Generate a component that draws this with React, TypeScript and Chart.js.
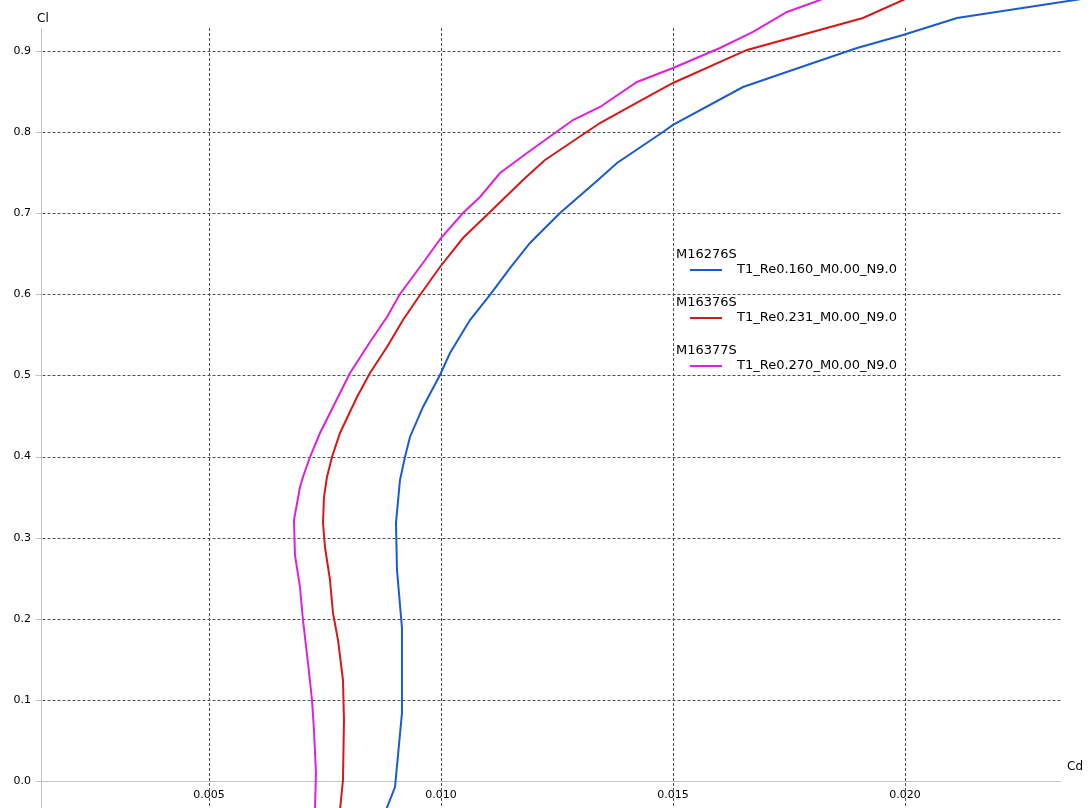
import React, { useEffect, useRef } from "react";
import { Chart, registerables } from "chart.js";

Chart.register(...registerables);

// ---- Data ----
const FOIL_NAMES = ["M16276S", "M16376S", "M16377S"];
const POLAR_NAMES = ["T1_Re0.160_M0.00_N9.0", "T1_Re0.231_M0.00_N9.0", "T1_Re0.270_M0.00_N9.0"];
const SERIES_COLORS = ["#1a5cd0", "#d81818", "#dc22dc"];

const BLUE_CD = [0.008815, 0.009009, 0.009159, 0.009159, 0.009052, 0.00903, 0.009116, 0.009224, 0.009332, 0.009612, 0.009978, 0.010194, 0.010625, 0.011056, 0.011487, 0.011918, 0.012565, 0.013384, 0.013793, 0.014784, 0.015, 0.016509, 0.018017, 0.018966, 0.019957, 0.021121, 0.02366, 0.0245];
const BLUE_CL = [-0.0358, -0.0074, 0.0838, 0.1887, 0.2602, 0.3181, 0.3711, 0.3995, 0.4242, 0.4612, 0.5006, 0.5277, 0.5684, 0.5993, 0.6325, 0.6634, 0.7004, 0.7411, 0.762, 0.8002, 0.8089, 0.8557, 0.8853, 0.9038, 0.9199, 0.9408, 0.963, 0.9704];

const RED_CD = [0.007823, 0.007888, 0.007909, 0.007888, 0.00778, 0.007672, 0.007608, 0.0075, 0.007457, 0.007478, 0.007543, 0.007651, 0.007823, 0.00819, 0.00847, 0.008836, 0.009181, 0.009547, 0.009978, 0.010474, 0.011056, 0.011767, 0.012241, 0.013427, 0.014009, 0.015, 0.016595, 0.019095, 0.019957, 0.020431];
const RED_CL = [-0.0358, 0.0012, 0.0752, 0.1245, 0.1739, 0.2072, 0.2478, 0.2885, 0.3181, 0.3502, 0.3748, 0.3995, 0.4291, 0.4735, 0.5031, 0.5351, 0.5684, 0.5993, 0.6338, 0.6695, 0.7016, 0.7411, 0.7657, 0.8113, 0.8298, 0.8607, 0.9014, 0.9408, 0.963, 0.9753];

const MAG_CD = [0.007284, 0.007306, 0.007263, 0.00722, 0.007134, 0.007026, 0.006961, 0.006853, 0.006832, 0.006961, 0.007026, 0.007177, 0.007392, 0.007608, 0.008039, 0.00847, 0.008836, 0.009116, 0.009547, 0.01, 0.010474, 0.010841, 0.011272, 0.011853, 0.012845, 0.013427, 0.014224, 0.015, 0.016013, 0.016724, 0.017457, 0.018168, 0.018599];
const MAG_CL = [-0.0358, 0.0099, 0.0629, 0.0999, 0.1455, 0.1985, 0.2392, 0.2787, 0.3218, 0.3625, 0.3748, 0.3995, 0.4291, 0.4538, 0.5031, 0.5413, 0.5721, 0.6005, 0.6338, 0.6695, 0.7004, 0.7201, 0.7497, 0.7744, 0.815, 0.8311, 0.8619, 0.8792, 0.9038, 0.9236, 0.9482, 0.963, 0.9729];

const X_TICKS = [0.005, 0.01, 0.015, 0.02];
const X_TICK_LABELS = ["0.005", "0.010", "0.015", "0.020"];
const Y_TICKS = [0.0, 0.1, 0.2, 0.3, 0.4, 0.5, 0.6, 0.7, 0.8, 0.9];
const Y_TICK_LABELS = ["0.0", "0.1", "0.2", "0.3", "0.4", "0.5", "0.6", "0.7", "0.8", "0.9"];
const X_TITLE = "Cd";
const Y_TITLE = "Cl";

const X_MIN = 0.000496;
const X_MAX = 0.024009;
const Y_MIN = -0.0333;
const Y_MAX = 0.963;

// ---- Layout / style constants (pixels) ----
const W = 1091;
const H = 808;
const AXIS_LEFT = 41.5;
const GRID_RIGHT = 1061;
const GRID_TOP = 28;
const FONT = "DejaVu Sans, Verdana, sans-serif";

const pairs = (xs: number[], ys: number[]) => xs.map((x, i) => ({ x, y: ys[i] }));

const framePlugin = {
  id: "xflrFrame",
  beforeDatasetsDraw(chart: any) {
    const ctx = chart.ctx as CanvasRenderingContext2D;
    const xs = chart.scales.x;
    const ys = chart.scales.y;
    ctx.save();
    ctx.lineWidth = 1;
    ctx.strokeStyle = "#c4c4c4";
    Y_TICKS.forEach((v) => {
      const py = Math.round(ys.getPixelForValue(v)) + 0.5;
      ctx.beginPath();
      ctx.moveTo(AXIS_LEFT - 6, py);
      ctx.lineTo(AXIS_LEFT, py);
      ctx.stroke();
    });
    ctx.strokeStyle = "#505050";
    ctx.setLineDash([3, 2]);
    Y_TICKS.forEach((v) => {
      if (v === 0) return;
      const py = Math.round(ys.getPixelForValue(v)) + 0.5;
      ctx.beginPath();
      ctx.moveTo(AXIS_LEFT + 1, py);
      ctx.lineTo(GRID_RIGHT, py);
      ctx.stroke();
    });
    X_TICKS.forEach((v) => {
      const px = Math.round(xs.getPixelForValue(v)) + 0.5;
      ctx.beginPath();
      ctx.moveTo(px, GRID_TOP);
      ctx.lineTo(px, H);
      ctx.stroke();
    });
    ctx.setLineDash([]);
    ctx.strokeStyle = "#c4c4c4";
    const y0 = Math.round(ys.getPixelForValue(0)) + 0.5;
    ctx.beginPath();
    ctx.moveTo(AXIS_LEFT, GRID_TOP);
    ctx.lineTo(AXIS_LEFT, H);
    ctx.stroke();
    ctx.beginPath();
    ctx.moveTo(AXIS_LEFT, y0);
    ctx.lineTo(GRID_RIGHT, y0);
    ctx.stroke();
    ctx.restore();
  },
  afterDatasetsDraw(chart: any) {
    const ctx = chart.ctx as CanvasRenderingContext2D;
    const xs = chart.scales.x;
    const ys = chart.scales.y;
    ctx.save();
    ctx.fillStyle = "#000";
    ctx.font = `11px ${FONT}`;
    ctx.textBaseline = "middle";
    ctx.textAlign = "right";
    Y_TICKS.forEach((v, i) => {
      ctx.fillText(Y_TICK_LABELS[i], 31, ys.getPixelForValue(v));
    });
    ctx.textAlign = "center";
    X_TICKS.forEach((v, i) => {
      ctx.fillText(X_TICK_LABELS[i], xs.getPixelForValue(v), 795);
    });
    ctx.font = `12px ${FONT}`;
    ctx.textAlign = "left";
    ctx.fillText(Y_TITLE, 37, 19);
    ctx.fillText(X_TITLE, 1067, 767);
    ctx.font = `13px ${FONT}`;
    FOIL_NAMES.forEach((name, i) => {
      const top = 255 + i * 48;
      ctx.fillStyle = "#000";
      ctx.fillText(name, 676, top);
      ctx.strokeStyle = SERIES_COLORS[i];
      ctx.lineWidth = 2;
      ctx.beginPath();
      ctx.moveTo(690, top + 15);
      ctx.lineTo(722, top + 15);
      ctx.stroke();
      ctx.fillText(POLAR_NAMES[i], 737, top + 15);
    });
    ctx.restore();
  },
};

export default function App() {
  const ref = useRef<HTMLCanvasElement | null>(null);
  useEffect(() => {
    document.body.style.margin = "0";
    const canvas = ref.current;
    if (!canvas) return;
    const series = [pairs(BLUE_CD, BLUE_CL), pairs(RED_CD, RED_CL), pairs(MAG_CD, MAG_CL)];
    const chart = new Chart(canvas, {
      type: "scatter",
      data: {
        datasets: series.map((d, i) => ({
          label: `${FOIL_NAMES[i]} ${POLAR_NAMES[i]}`,
          data: d,
          showLine: true,
          borderColor: SERIES_COLORS[i],
          backgroundColor: SERIES_COLORS[i],
          borderWidth: 2,
          pointRadius: 0,
          tension: 0,
        })),
      },
      options: {
        responsive: false,
        animation: false,
        layout: { padding: 0 },
        plugins: { legend: { display: false }, tooltip: { enabled: false } },
        scales: {
          x: { type: "linear", min: X_MIN, max: X_MAX, display: false },
          y: { type: "linear", min: Y_MIN, max: Y_MAX, display: false },
        },
      },
      plugins: [framePlugin],
    });
    return () => chart.destroy();
  }, []);
  return (
    <div style={{ width: W, height: H, background: "#fff" }}>
      <canvas ref={ref} width={W} height={H} style={{ display: "block" }} />
    </div>
  );
}
